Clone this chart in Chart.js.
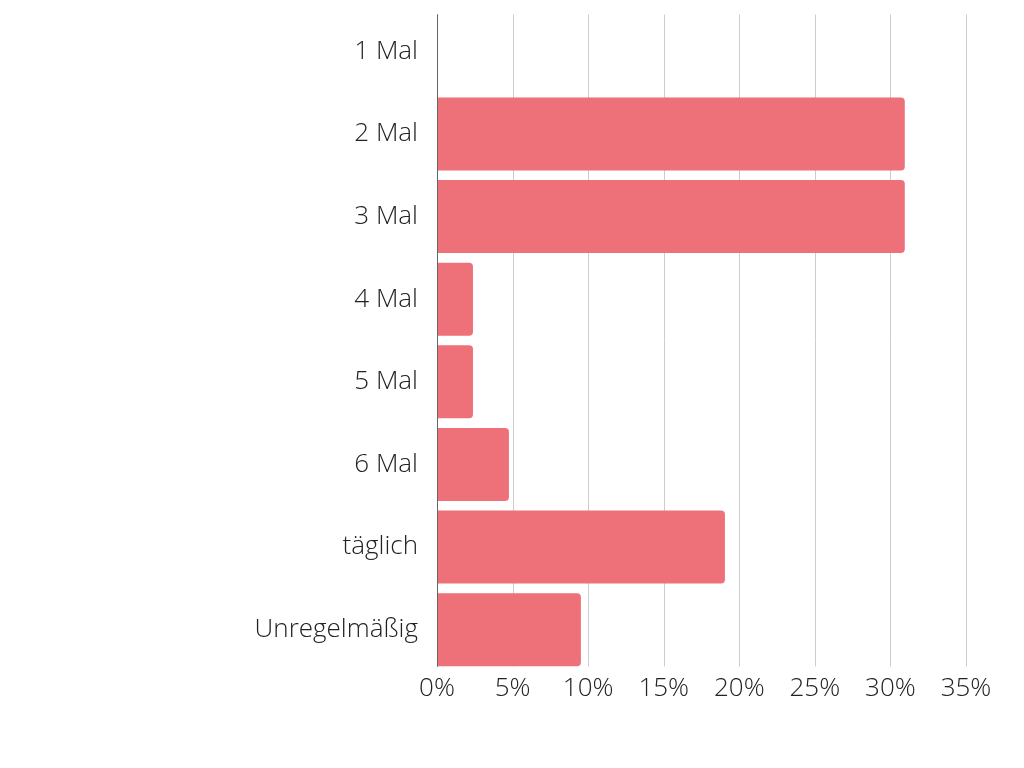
<!DOCTYPE html>
<html>
<head>
<meta charset="utf-8">
<script src="https://cdn.jsdelivr.net/npm/chart.js@4/dist/chart.umd.min.js"></script>
<style>
html,body{margin:0;padding:0;background:#fff;}
#wrap{width:1024px;height:768px;}
</style>
</head>
<body>
<div id="wrap"><canvas id="c" width="1024" height="768"></canvas></div>
<script>
const categories = ["1 Mal","2 Mal","3 Mal","4 Mal","5 Mal","6 Mal","täglich","Unregelmäßig"];
const values = [0, 30.95, 30.95, 2.38, 2.38, 4.76, 19.05, 9.52];
const xTicks = [0,5,10,15,20,25,30,35];

const gridPlugin = {
  id: 'insetGrid',
  beforeDatasetsDraw(chart) {
    const ctx = chart.ctx, x = chart.scales.x, a = chart.chartArea;
    const top = a.top + 4.5, bottom = a.bottom - 4.5;
    ctx.save();
    ctx.lineWidth = 1;
    xTicks.forEach((v, i) => {
      const px = Math.round(x.getPixelForValue(v)) + 0.5;
      ctx.strokeStyle = i === 0 ? '#666666' : '#cccccc';
      ctx.beginPath(); ctx.moveTo(px, top); ctx.lineTo(px, bottom); ctx.stroke();
    });
    ctx.restore();
  },
  afterDatasetsDraw(chart) {
    const ctx = chart.ctx, x = chart.scales.x, a = chart.chartArea;
    const px = Math.round(x.getPixelForValue(0)) + 0.5;
    ctx.save();
    ctx.strokeStyle = '#666666'; ctx.lineWidth = 1;
    ctx.beginPath(); ctx.moveTo(px, a.top + 4.5); ctx.lineTo(px, a.bottom - 4.5); ctx.stroke();
    ctx.restore();
  }
};

new Chart(document.getElementById('c'), {
  type: 'bar',
  data: {
    labels: categories,
    datasets: [{
      data: values,
      backgroundColor: '#ee7079',
      borderRadius: 4,
      borderSkipped: 'start',
      barPercentage: 0.883,
      categoryPercentage: 1.0
    }]
  },
  options: {
    indexAxis: 'y',
    responsive: false,
    animation: false,
    devicePixelRatio: 1,
    layout: { padding: { top: 10, right: 58, bottom: 0, left: 0 } },
    plugins: { legend: { display: false }, tooltip: { enabled: false } },
    scales: {
      x: {
        min: 0, max: 35,
        afterBuildTicks: (s) => { s.ticks = xTicks.map(v => ({ value: v })); },
        afterFit: (s) => { s.height = 97; s.paddingLeft = 0; s.paddingRight = 0; },
        grid: { display: false, drawTicks: false },
        border: { display: false },
        ticks: {
          padding: 2,
          color: '#222222',
          font: { family: 'Open Sans', size: 26, weight: 300 },
          callback: (v) => v + '%'
        }
      },
      y: {
        afterFit: (s) => { s.width = 437; s.paddingTop = 0; s.paddingBottom = 0; },
        grid: { display: false, drawTicks: false },
        border: { display: false },
        ticks: {
          padding: 19,
          color: '#222222',
          font: { family: 'Open Sans', size: 26, weight: 300 }
        }
      }
    }
  },
  plugins: [gridPlugin]
});
</script>
</body>
</html>
